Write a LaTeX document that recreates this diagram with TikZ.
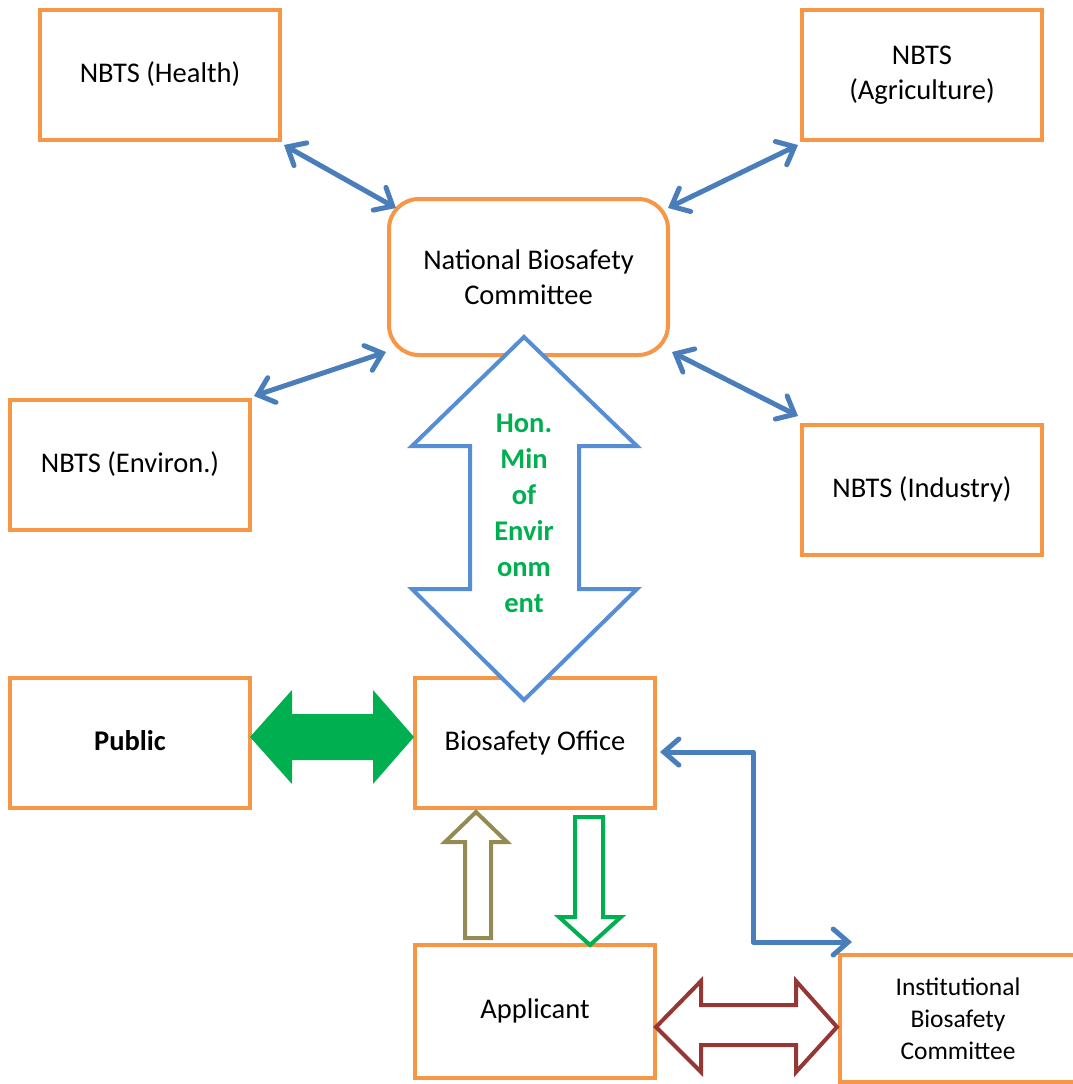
\documentclass[tikz,border=0pt]{standalone}
\usepackage{fontspec}
\setmainfont{Carlito}
\usetikzlibrary{arrows.meta,calc}
\definecolor{boxorange}{HTML}{F79646}
\definecolor{connblue}{HTML}{4A7EBB}
\definecolor{bigblue}{HTML}{558ED5}
\definecolor{mygreen}{HTML}{00B050}
\definecolor{olive}{HTML}{948A54}
\definecolor{brownred}{HTML}{953735}
\tikzset{
  orgbox/.style={draw=boxorange, line width=4pt, fill=white, minimum width=240pt, minimum height=130pt, align=center, inner sep=0pt, font=\fontsize{28.5}{35}\selectfont},
  conn/.style={draw=connblue, line width=5pt, line cap=round, line join=round, {Straight Barb[length=15pt,width=26pt,line cap=round]}-{Straight Barb[length=15pt,width=26pt,line cap=round]}},
  hollowarrow/.style={line width=4pt, fill=white, line join=miter},
}
\begin{document}
\begin{tikzpicture}[x=1pt,y=-1pt]
\useasboundingbox (0,0) rectangle (1072,1084);
\fill[white] (0,0) rectangle (1072,1084);

\node[orgbox] (health) at (160,75) {\strut NBTS (Health)};
\node[orgbox] (agri) at (922,75) {NBTS\\(Agriculture)};
\node[orgbox, minimum width=279pt, minimum height=156pt, rounded corners=30pt] (nbc) at (528.5,277) {National Biosafety\\Committee};
\node[orgbox] (env) at (130,465) {\strut NBTS (Environ.)};
\node[orgbox] (ind) at (922,490) {\strut NBTS (Industry)};
\node[orgbox, font=\fontsize{28.5}{35}\selectfont\bfseries] (public) at (130,743) {\strut Public};
\node[orgbox] (bo) at (535,743) {\strut Biosafety Office};
\node[orgbox, minimum height=133pt] (app) at (535,1011.5) {\strut Applicant};
\node[orgbox, minimum width=236pt, minimum height=127pt, font=\fontsize{25.5}{32}\selectfont] (ibc) at (958,1018.5) {Institutional\\Biosafety\\Committee};

% blue connectors
\draw[conn] ($(health.south east)+(2,3)$) -- ($(nbc.north west)+(9,11)$);
\draw[conn] ($(agri.south west)+(-2,3)$) -- ($(nbc.north east)+(-2,11)$);
\draw[conn] ($(env.north east)+(2,-2)$) -- ($(nbc.south west)+(-1,-5)$);
\draw[conn] ($(ind.north west)+(-2,-7)$) -- ($(nbc.south east)+(2,-5)$);
\coordinate (ibcin) at (852,942);
\draw[conn] ($(bo.east)+(3,9)$) -| (753,942) -- (ibcin);

% big hollow double arrow
\draw[bigblue, hollowarrow] (524,337) -- (637,446) -- (579,446) -- (579,589) -- (637,589) -- (524,700) -- (412,589) -- (470,589) -- (470,446) -- (412,446) -- cycle;
\node[text=mygreen, font=\fontsize{28.5}{36}\selectfont\bfseries, align=center, inner sep=0pt] (hon) at (524,513) {Hon.\\Min\\of\\Envir\\onm\\ent};

% public <-> biosafety office
\fill[mygreen] (250,737) -- (292,690) -- (292,714) -- (373,714) -- (373,690) -- (414,737) -- (373,784) -- (373,760) -- (292,760) -- (292,784) -- cycle;

% applicant -> biosafety office
\draw[olive, hollowarrow] (476,812) -- (507,842) -- (491,842) -- (491,938) -- (465,938) -- (465,842) -- (445,842) -- cycle;
% biosafety office -> applicant
\draw[mygreen, hollowarrow] (575,817) -- (603,817) -- (603,917) -- (621,917) -- (590,945) -- (559,917) -- (575,917) -- cycle;

% applicant <-> IBC
\draw[brownred, hollowarrow] (656,1027) -- (701,981) -- (701,1005) -- (796,1005) -- (796,981) -- (837,1027) -- (796,1072) -- (796,1045) -- (701,1045) -- (701,1072) -- cycle;
\end{tikzpicture}
\end{document}
